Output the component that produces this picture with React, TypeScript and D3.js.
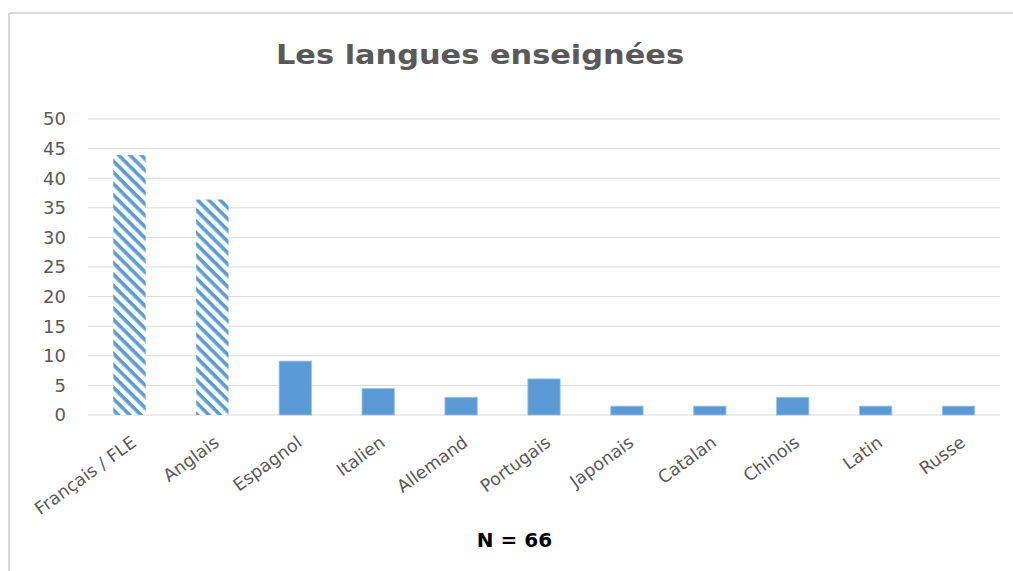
import React from "react";
import * as d3 from "d3";

const categories = ["Français / FLE", "Anglais", "Espagnol", "Italien", "Allemand", "Portugais", "Japonais", "Catalan", "Chinois", "Latin", "Russe"];
const values = [43.9, 36.4, 9.1, 4.5, 3.0, 6.1, 1.5, 1.5, 3.0, 1.5, 1.5];
const hatched = [true, true, false, false, false, false, false, false, false, false, false];
const yTicks = [0, 5, 10, 15, 20, 25, 30, 35, 40, 45, 50];
const title = "Les langues enseignées";
const note = "N = 66";

const W = 1013, H = 571;
const BLUE = "#5B9BD5";
const TXT = "#595959";
const FONT = "'DejaVu Sans', sans-serif";

export default function App() {
  const x = d3.scaleBand<string>().domain(categories).range([88, 1000]).paddingInner(0.61).paddingOuter(0.305);
  const y = d3.scaleLinear().domain([0, 50]).range([415, 119]);
  return (
    <svg width={W} height={H} style={{ position: "absolute", left: 0, top: 0, background: "#fff" }} fontFamily={FONT}>
      <defs>
        <pattern id="hatch" patternUnits="userSpaceOnUse" width={8} height={8} patternTransform="rotate(45)">
          <rect x={0} y={0} width={8} height={8} fill="#fff" />
          <rect x={0} y={0} width={8} height={3.6} fill={BLUE} />
        </pattern>
      </defs>
      <rect x={0} y={0} width={W} height={H} fill="#fff" />
      <line x1={9} x2={W} y1={13} y2={13} stroke="#d9d9d9" strokeWidth={2} />
      <line x1={9} x2={9} y1={13} y2={H} stroke="#d9d9d9" strokeWidth={2} />
      <text x={480} y={64} textAnchor="middle" fontSize={27} fontWeight="bold" fill={TXT} textLength={408} lengthAdjust="spacingAndGlyphs">{title}</text>
      {yTicks.map((t) => (
        <g key={t}>
          <line x1={88} x2={1000} y1={y(t)} y2={y(t)} stroke="#d9d9d9" strokeWidth={1} />
          <text x={66} y={y(t)} dy="0.36em" textAnchor="end" fontSize={18} fill={TXT}>{t}</text>
        </g>
      ))}
      {categories.map((c, i) => (
        <rect key={c} x={x(c)} y={y(values[i])} width={x.bandwidth()} height={y(0) - y(values[i])}
          fill={hatched[i] ? "url(#hatch)" : BLUE} stroke={hatched[i] ? "none" : "#9dc3e6"} strokeWidth={0.8} />
      ))}
      {categories.map((c) => {
        const cx = (x(c) as number) + x.bandwidth() / 2;
        return (
          <text key={c} transform={`translate(${cx + 8},${445}) rotate(-36)`} textAnchor="end" fontSize={17.5} fill={TXT}>{c}</text>
        );
      })}
      <text x={514.5} y={547} textAnchor="middle" fontSize={20} fontWeight="bold" fill="#000">{note}</text>
    </svg>
  );
}
